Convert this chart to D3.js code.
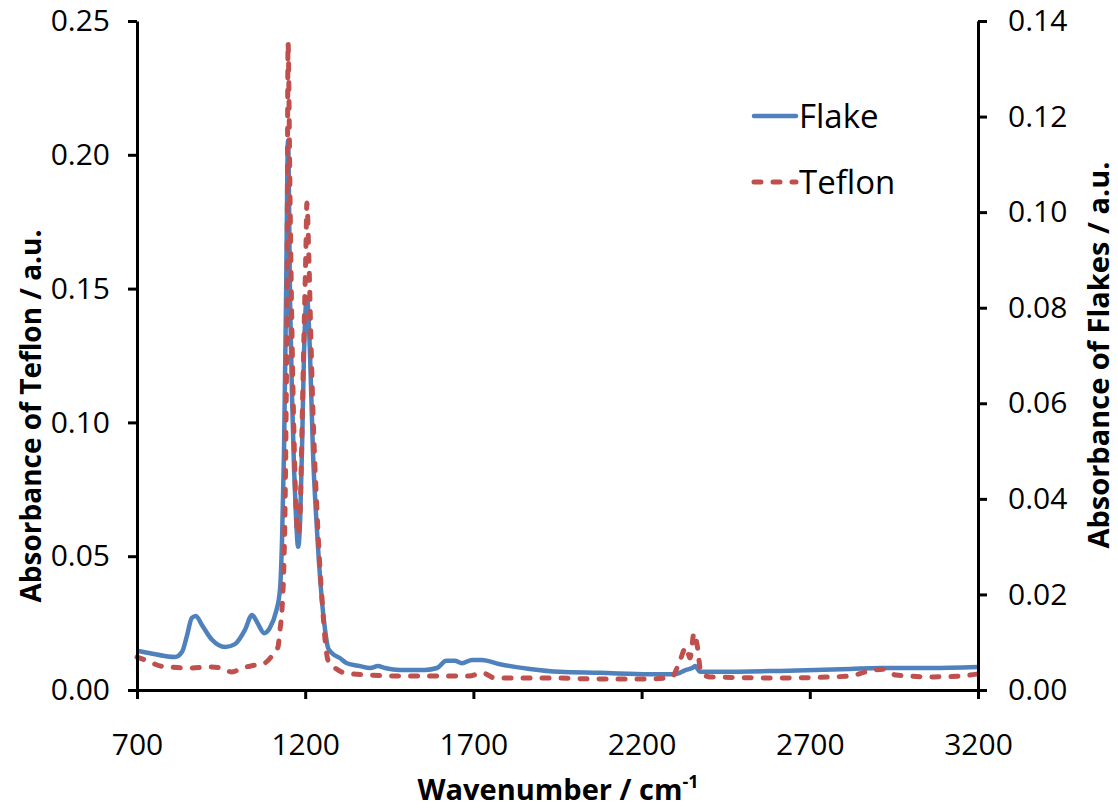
<!DOCTYPE html>
<html>
<head>
<meta charset="utf-8">
<script src="https://cdn.jsdelivr.net/npm/d3@7/dist/d3.min.js"></script>
<style>
body{margin:0;background:#fff;}
text{font-family:"Open Sans",sans-serif;}
</style>
</head>
<body>
<div id="container"></div>
<script>
// wavenumber / cm-1 and absorbance
var flakeX=[700,739,783,813,834,849,863,875,893,923,962,991,1021,1042,1057,1078,1095,1113,1125,1131,1137,1143,1149,1155,1161,1167,1173,1179,1185,1191,1196,1205,1214,1223,1235,1247,1259,1268,1280,1303,1324,1363,1393,1416,1437,1482,1556,1592,1619,1645,1666,1696,1725,1779,1868,1957,2076,2225,2299,2332,2350,2359,2374,2433,2611,2820,2909,3057,3200];
var flakeY=[0.0082,0.0077,0.0071,0.0069,0.0080,0.0115,0.0151,0.0155,0.0136,0.0105,0.0090,0.0096,0.0126,0.0157,0.0142,0.0119,0.0130,0.0163,0.0210,0.0310,0.0500,0.0816,0.1150,0.0816,0.0610,0.0460,0.0356,0.0300,0.0356,0.0520,0.0690,0.0822,0.0710,0.0500,0.0335,0.0210,0.0126,0.0088,0.0077,0.0067,0.0056,0.0050,0.0046,0.0050,0.0046,0.0042,0.0042,0.0046,0.0061,0.0061,0.0056,0.0063,0.0063,0.0054,0.0044,0.0038,0.0036,0.0033,0.0033,0.0042,0.0046,0.0050,0.0038,0.0038,0.0040,0.0044,0.0046,0.0046,0.0048];

var teflonX=[700,739,768,798,858,917,953,982,1012,1051,1080,1101,1119,1125,1131,1137,1140,1143,1146,1149,1155,1161,1167,1173,1179,1185,1191,1196,1202,1205,1211,1217,1226,1235,1244,1250,1259,1268,1289,1318,1393,1482,1601,1687,1726,1764,1928,2076,2225,2290,2314,2332,2344,2356,2365,2377,2404,2611,2820,2864,2918,2956,3069,3146,3200];
var teflonY=[0.0123,0.0105,0.0090,0.0086,0.0082,0.0086,0.0082,0.0067,0.0082,0.0093,0.0101,0.0127,0.0160,0.0224,0.0300,0.0486,0.0670,0.1010,0.1460,0.2420,0.1830,0.1310,0.0930,0.0670,0.0580,0.0670,0.1010,0.1310,0.1640,0.1820,0.1610,0.1310,0.0930,0.0670,0.0450,0.0340,0.0190,0.0110,0.0082,0.0064,0.0056,0.0052,0.0052,0.0052,0.0064,0.0045,0.0045,0.0041,0.0041,0.0049,0.0110,0.0160,0.0120,0.0213,0.0168,0.0064,0.0049,0.0045,0.0052,0.0067,0.0078,0.0056,0.0049,0.0052,0.0060];

var xTicks=[700,1200,1700,2200,2700,3200];
var leftTicks=[0,0.05,0.10,0.15,0.20,0.25];
var rightTicks=[0,0.02,0.04,0.06,0.08,0.10,0.12,0.14];
var seriesNames=['Flake','Teflon'];
var seriesColors=['#4F81BD','#C0504D'];

function drawChart(){
  var width=1118, height=809;
  var pLeft=137, pRight=978, pTop=21, pBottom=690;

  var svg=d3.select('#container')
    .append('svg')
    .attr('width',width)
    .attr('height',height);

  var xScale=d3.scaleLinear().domain([700,3200]).range([pLeft,pRight]);
  var yLeft=d3.scaleLinear().domain([0,0.25]).range([pBottom,pTop]);
  var yRight=d3.scaleLinear().domain([0,0.14]).range([pBottom,pTop]);

  var flake=flakeX.map((d,i)=>[d,flakeY[i]]);
  var teflon=teflonX.map((d,i)=>[d,teflonY[i]]);

  var flakeLine=d3.line()
    .x(d=>xScale(d[0]))
    .y(d=>yRight(d[1]))
    .curve(d3.curveMonotoneX);
  var teflonLine=d3.line()
    .x(d=>xScale(d[0]))
    .y(d=>yLeft(d[1]))
    .curve(d3.curveMonotoneX);

  svg.append('path')
    .datum(flake)
    .attr('d',flakeLine)
    .attr('fill','none')
    .attr('stroke',seriesColors[0])
    .attr('stroke-width',4.5)
    .attr('stroke-linejoin','round');

  svg.append('path')
    .datum(teflon)
    .attr('d',teflonLine)
    .attr('fill','none')
    .attr('stroke',seriesColors[1])
    .attr('stroke-width',5)
    .attr('stroke-linecap','round')
    .attr('stroke-linejoin','round')
    .attr('stroke-dasharray','7,12');

  // axes
  function styleAxis(g){
    g.selectAll('.domain').attr('stroke','#000').attr('stroke-width',3);
    g.selectAll('.tick line').attr('stroke','#000').attr('stroke-width',3);
    g.selectAll('.tick text').attr('fill','#000').style('font-size','30px')
     .style('font-family','"Open Sans",sans-serif');
  }

  var xAxis=svg.append('g')
    .attr('transform','translate(0,'+pBottom+')')
    .call(d3.axisBottom(xScale).tickValues(xTicks).tickSize(9).tickSizeOuter(0).tickPadding(35).tickFormat(d3.format('d')));
  styleAxis(xAxis);

  var lAxis=svg.append('g')
    .attr('transform','translate('+pLeft+',0)')
    .call(d3.axisLeft(yLeft).tickValues(leftTicks).tickSize(9).tickSizeOuter(0).tickPadding(18).tickFormat(d3.format('.2f')));
  styleAxis(lAxis);

  var rAxis=svg.append('g')
    .attr('transform','translate('+pRight+',0)')
    .call(d3.axisRight(yRight).tickValues(rightTicks).tickSize(9).tickSizeOuter(0).tickPadding(21).tickFormat(d3.format('.2f')));
  styleAxis(rAxis);

  // axis titles
  var xt=svg.append('text')
    .attr('x',558).attr('y',800)
    .attr('text-anchor','middle')
    .style('font-size','29px').style('font-weight','bold');
  xt.append('tspan').text('Wavenumber / cm');
  xt.append('tspan').text('-1').attr('dy',-12).style('font-size','18px');

  svg.append('text')
    .attr('transform','translate(41,416) rotate(-90)')
    .attr('text-anchor','middle')
    .style('font-size','28px').style('font-weight','bold')
    .text('Absorbance of Teflon / a.u.');

  svg.append('text')
    .attr('transform','translate(1109,355) rotate(-90)')
    .attr('text-anchor','middle')
    .style('font-size','29px').style('font-weight','bold')
    .text('Absorbance of Flakes / a.u.');

  // legend
  var legendY=[116,182];
  seriesNames.forEach((name,i)=>{
    var ln=svg.append('line')
      .attr('x1',754).attr('x2',796)
      .attr('y1',legendY[i]).attr('y2',legendY[i])
      .attr('stroke',seriesColors[i])
      .attr('stroke-width',i===1?5:4.5)
      .attr('stroke-linecap','round');
    if(i===1) ln.attr('stroke-dasharray','7,12');
    svg.append('text')
      .attr('x',799).attr('y',legendY[i])
      .attr('dy','0.35em')
      .style('font-size','33px')
      .text(name);
  });
}
drawChart();
</script>
</body>
</html>
